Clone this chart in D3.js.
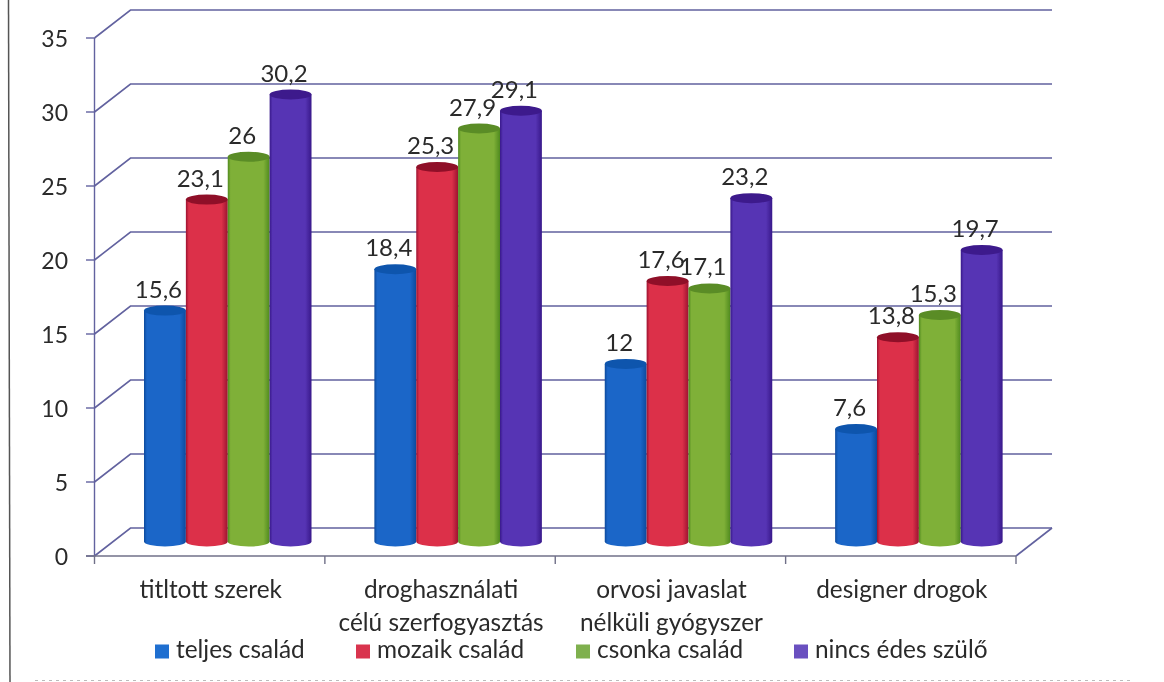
<!DOCTYPE html>
<html><head><meta charset="utf-8">
<script src="https://cdnjs.cloudflare.com/ajax/libs/d3/7.8.5/d3.min.js"></script>
<style>html,body{margin:0;padding:0;background:#fff}svg{display:block;filter:blur(.45px)}text{font-family:Lato,"Open Sans",sans-serif;fill:#2a2a2a}</style>
</head><body><svg id="c" width="1164" height="682"></svg>
<script>
const categories=[["titltott szerek"],["droghasználati","célú szerfogyasztás"],["orvosi javaslat","nélküli gyógyszer"],["designer drogok"]];
const seriesNames=["teljes család","mozaik család","csonka család","nincs édes szülő"];
const teljes=["15,6","18,4","12","7,6"];
const mozaik=["23,1","25,3","17,6","13,8"];
const csonka=["26","27,9","17,1","15,3"];
const nincs=["30,2","29,1","23,2","19,7"];
const seriesLabels=[teljes,mozaik,csonka,nincs];
const yTicks=[0,5,10,15,20,25,30,35];
const base=["#0d4a9c","#9c1230","#4f8a1e","#38188a"];
const light=["#1b66c8","#dc3049","#7fb038","#5634b4"];
const topC=["#0e55ad","#8f0f28","#5a8c26","#3d1a8c"];
const swatch=["#1f6fd0","#d9344e","#7fb04e","#6a50c0"];
const svg=d3.select("#c");
const num=s=>+s.replace(",",".");
const y=d3.scaleLinear().domain([0,35]).range([556,38]);
const x0=d3.scaleBand().domain(d3.range(4)).range([94.5,1016]);
const x1=d3.scaleBand().domain(d3.range(4)).range([0,167.5]);
const dx=36,dy=-28,lc="#62629f";
const defs=svg.append("defs");
base.forEach((b,i)=>{const g=defs.append("linearGradient").attr("id","g"+i);
 g.append("stop").attr("offset","0").attr("stop-color",b);
 g.append("stop").attr("offset",".07").attr("stop-color",light[i]);
 g.append("stop").attr("offset",".85").attr("stop-color",light[i]);
 g.append("stop").attr("offset","1").attr("stop-color",b);});
svg.append("line").attr("x1",8.5).attr("y1",0).attr("x2",10).attr("y2",682).attr("stroke","#555").attr("stroke-width",1.5);
svg.append("line").attr("x1",35).attr("y1",680.5).attr("x2",1130).attr("y2",680.5).attr("stroke","#bbb").attr("stroke-width",1).attr("stroke-dasharray","3 4");
const wall=svg.append("g").attr("fill","none").attr("stroke",lc).attr("stroke-width",1.6);
yTicks.forEach(t=>{
 wall.append("path").attr("d",d3.line()([[x0.range()[0],y(t)],[x0.range()[0]+dx,y(t)+dy],[x0.range()[1]+dx,y(t)+dy]]));
});
wall.append("path").attr("d",d3.line()([[x0.range()[1],y(0)],[x0.range()[1]+dx,y(0)+dy]]));
const ax=svg.append("g").attr("fill","none").attr("stroke",lc).attr("stroke-width",1.4);
ax.append("line").attr("x1",94.5).attr("x2",94.5).attr("y1",y(35)).attr("y2",y(0));
yTicks.forEach(t=>ax.append("line").attr("x1",86).attr("x2",94.5).attr("y1",y(t)).attr("y2",y(t)));
ax.append("line").attr("x1",86).attr("x2",1016).attr("y1",y(0)).attr("y2",y(0)).attr("stroke","#707088");
d3.range(5).forEach(i=>{const px=94.5+i*x0.bandwidth();ax.append("line").attr("x1",px).attr("x2",px).attr("y1",y(0)).attr("y2",y(0)+8).attr("stroke","#707088");});
svg.append("g").selectAll("text").data(yTicks).join("text").attr("x",68).attr("y",d=>y(d)+9).attr("text-anchor","end").attr("font-size",23).text(d=>d);
const off=-14.5,ry=5;
categories.forEach((c,ci)=>{
 seriesLabels.forEach((vals,si)=>{
  const v=num(vals[ci]);
  const l=x0(ci)+49.5+x1(si),w=x1.bandwidth(),cx=l+w/2,top=y(v)+off,bot=y(0)+off;
  const g=svg.append("g");
  g.append("path").attr("d",`M${l},${top}V${bot}A${w/2},${ry} 0 0 0 ${l+w},${bot}V${top}Z`).attr("fill",`url(#g${si})`);
  g.append("ellipse").attr("cx",cx).attr("cy",top).attr("rx",w/2).attr("ry",ry).attr("fill",topC[si]);
  svg.append("text").attr("class","lab").attr("x",cx-6.5).attr("y",top-13).attr("text-anchor","middle").attr("font-size",24).text(vals[ci]);
 });
});
svg.selectAll("text.lab").raise();
categories.forEach((c,i)=>{
 const cx=x0(i)+x0.bandwidth()/2+1;
 c.forEach((t,j)=>svg.append("text").attr("x",cx).attr("y",598+j*33).attr("text-anchor","middle").attr("font-size",24.4).text(t));
});
const legX=[155,356,576,794];
seriesNames.forEach((n,i)=>{
 svg.append("rect").attr("x",legX[i]).attr("y",644.5).attr("width",14).attr("height",14).attr("fill",swatch[i]);
 svg.append("text").attr("x",legX[i]+21).attr("y",658).attr("font-size",24.4).text(n);
});
</script></body></html>
